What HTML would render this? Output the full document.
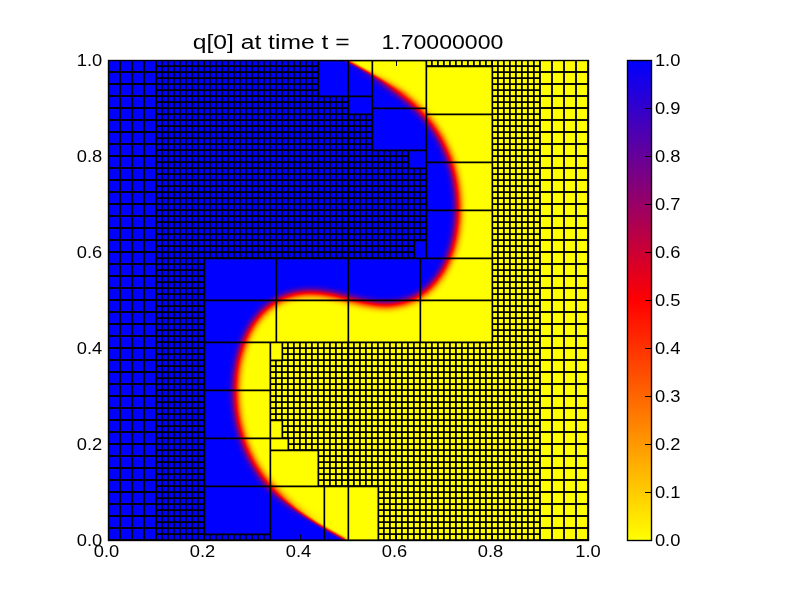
<!DOCTYPE html>
<html><head><meta charset="utf-8"><style>
html,body{margin:0;padding:0;background:#fff;}
svg{display:block;will-change:transform;}
text{font-family:"Liberation Sans",sans-serif;fill:#000;}
</style></head><body>
<svg width="800" height="600" viewBox="0 0 800 600">
<defs>
<filter id="cm" x="0" y="0" width="800" height="600" filterUnits="userSpaceOnUse" color-interpolation-filters="sRGB">
<feGaussianBlur stdDeviation="4.5"/>
<feComponentTransfer>
<feFuncR type="table" tableValues="1 1 0"/>
<feFuncG type="table" tableValues="1 0 0"/>
<feFuncB type="table" tableValues="0 0 1"/>
<feFuncA type="identity"/>
</feComponentTransfer>
</filter>
<filter id="cm2" x="0" y="0" width="800" height="600" filterUnits="userSpaceOnUse" color-interpolation-filters="sRGB">
<feGaussianBlur stdDeviation="1.8"/>
<feComponentTransfer>
<feFuncR type="table" tableValues="1 1 0"/>
<feFuncG type="table" tableValues="1 0 0"/>
<feFuncB type="table" tableValues="0 0 1"/>
</feComponentTransfer>
</filter>
<linearGradient id="wg" gradientUnits="userSpaceOnUse" x1="0" y1="60" x2="0" y2="540">
<stop offset="0.0167" stop-color="#fff"/><stop offset="0.0667" stop-color="#000"/>
<stop offset="0.8917" stop-color="#000"/><stop offset="0.9688" stop-color="#fff"/>
</linearGradient>
<mask id="wm" maskUnits="userSpaceOnUse" x="0" y="0" width="800" height="600"><rect x="0" y="0" width="800" height="600" fill="url(#wg)"/></mask>
<clipPath id="ax"><rect x="108" y="60" width="480" height="480"/></clipPath>
<mask id="m2" maskUnits="userSpaceOnUse" x="0" y="0" width="800" height="600"><rect x="156" y="60" width="384" height="481" fill="#fff"/><rect x="318" y="60" width="30" height="36" fill="#000"/><rect x="348" y="60" width="24" height="36" fill="#000"/><rect x="348" y="96" width="24" height="18" fill="#000"/><rect x="372" y="60" width="54" height="48" fill="#000"/><rect x="372" y="108" width="54" height="42" fill="#000"/><rect x="408" y="150" width="18" height="18" fill="#000"/><rect x="414" y="240" width="12" height="18" fill="#000"/><rect x="426" y="66" width="66" height="48" fill="#000"/><rect x="426" y="114" width="66" height="48" fill="#000"/><rect x="426" y="162" width="66" height="48" fill="#000"/><rect x="426" y="210" width="66" height="48" fill="#000"/><rect x="204" y="258" width="72" height="42" fill="#000"/><rect x="276" y="258" width="72" height="42" fill="#000"/><rect x="348" y="258" width="72" height="42" fill="#000"/><rect x="420" y="258" width="72" height="42" fill="#000"/><rect x="204" y="300" width="72" height="42" fill="#000"/><rect x="276" y="300" width="72" height="42" fill="#000"/><rect x="348" y="300" width="72" height="42" fill="#000"/><rect x="420" y="300" width="72" height="42" fill="#000"/><rect x="204" y="342" width="66" height="48" fill="#000"/><rect x="204" y="390" width="66" height="48" fill="#000"/><rect x="204" y="438" width="66" height="48" fill="#000"/><rect x="204" y="486" width="66" height="48" fill="#000"/><rect x="270" y="342" width="12" height="18" fill="#000"/><rect x="270" y="420" width="12" height="18" fill="#000"/><rect x="270" y="438" width="18" height="12" fill="#000"/><rect x="270" y="450" width="48" height="36" fill="#000"/><rect x="270" y="486" width="54" height="54" fill="#000"/><rect x="324" y="486" width="24" height="54" fill="#000"/><rect x="348" y="486" width="30" height="54" fill="#000"/></mask>
<linearGradient id="cbg" x1="0" y1="1" x2="0" y2="0"><stop offset="0" stop-color="#ff0"/><stop offset="0.5" stop-color="#f00"/><stop offset="1" stop-color="#00f"/></linearGradient>
</defs>
<g clip-path="url(#ax)">
<g filter="url(#cm)"><rect x="40" y="0" width="600" height="600" fill="#000"/><path id="bl" d="M60.00,0.00 L418.79,0.00 L418.79,12.00 L408.50,21.41 L397.50,30.00 L384.27,39.00 L369.42,48.00 L348.00,60.00 L369.42,72.00 L384.27,81.00 L397.50,90.00 L408.50,98.59 L418.79,108.00 L423.57,113.00 L427.92,118.00 L432.00,123.18 L435.79,128.50 L439.31,134.00 L442.45,139.50 L445.74,146.00 L448.59,152.50 L451.05,159.00 L453.29,166.00 L455.15,173.00 L456.64,180.00 L457.86,187.50 L458.70,195.00 L459.18,202.50 L459.29,210.00 L459.04,217.50 L458.42,225.00 L457.40,232.50 L456.07,239.50 L454.49,246.00 L452.50,252.56 L448.85,262.00 L444.50,270.66 L439.46,278.50 L433.50,285.75 L427.43,291.50 L420.50,296.55 L413.00,300.57 L405.00,303.52 L398.50,305.05 L391.50,305.94 L384.00,306.15 L376.50,305.68 L370.00,304.83 L362.50,303.43 L338.00,297.56 L328.50,295.59 L319.00,294.27 L310.00,293.84 L305.00,294.02 L300.50,294.48 L296.00,295.24 L291.50,296.34 L287.00,297.80 L283.00,299.43 L279.00,301.40 L275.00,303.77 L270.50,306.94 L266.50,310.30 L262.50,314.25 L259.00,318.28 L255.50,322.97 L252.50,327.63 L249.53,333.00 L247.00,338.34 L244.53,344.50 L242.52,350.50 L240.74,357.00 L239.31,363.50 L238.14,370.50 L237.33,377.50 L236.86,384.50 L236.70,391.50 L237.17,403.50 L238.50,415.00 L240.73,426.50 L243.78,437.50 L247.62,448.00 L252.23,458.00 L257.61,467.50 L264.00,476.82 L270.64,485.00 L278.22,493.00 L286.50,500.56 L295.79,508.00 L305.63,515.00 L317.00,522.30 L330.00,529.97 L348.00,540.00 L330.00,550.03 L317.00,557.70 L305.63,565.00 L295.79,572.00 L286.50,579.44 L278.22,587.00 L278.22,600.00 L60.00,600.00 Z" fill="#fff" stroke="#000" stroke-width="2.0"/></g>
<g mask="url(#wm)"><g filter="url(#cm2)"><rect x="40" y="0" width="600" height="600" fill="#000"/><use href="#bl"/></g></g>
</g>
<g clip-path="url(#ax)" fill="none" stroke="#000" stroke-width="1.39">
<path d="M108,60V540M120,60V540M132,60V540M144,60V540M156,60V540M108,60H156M108,72H156M108,84H156M108,96H156M108,108H156M108,120H156M108,132H156M108,144H156M108,156H156M108,168H156M108,180H156M108,192H156M108,204H156M108,216H156M108,228H156M108,240H156M108,252H156M108,264H156M108,276H156M108,288H156M108,300H156M108,312H156M108,324H156M108,336H156M108,348H156M108,360H156M108,372H156M108,384H156M108,396H156M108,408H156M108,420H156M108,432H156M108,444H156M108,456H156M108,468H156M108,480H156M108,492H156M108,504H156M108,516H156M108,528H156M108,540H156M540,60V540M552,60V540M564,60V540M576,60V540M588,60V540M540,60H588M540,72H588M540,84H588M540,96H588M540,108H588M540,120H588M540,132H588M540,144H588M540,156H588M540,168H588M540,180H588M540,192H588M540,204H588M540,216H588M540,228H588M540,240H588M540,252H588M540,264H588M540,276H588M540,288H588M540,300H588M540,312H588M540,324H588M540,336H588M540,348H588M540,360H588M540,372H588M540,384H588M540,396H588M540,408H588M540,420H588M540,432H588M540,444H588M540,456H588M540,468H588M540,480H588M540,492H588M540,504H588M540,516H588M540,528H588M540,540H588"/><path d="M108,60V540M120,60V540M132,60V540M144,60V540M156,60V540M108,60H156M108,72H156M108,84H156M108,96H156M108,108H156M108,120H156M108,132H156M108,144H156M108,156H156M108,168H156M108,180H156M108,192H156M108,204H156M108,216H156M108,228H156M108,240H156M108,252H156M108,264H156M108,276H156M108,288H156M108,300H156M108,312H156M108,324H156M108,336H156M108,348H156M108,360H156M108,372H156M108,384H156M108,396H156M108,408H156M108,420H156M108,432H156M108,444H156M108,456H156M108,468H156M108,480H156M108,492H156M108,504H156M108,516H156M108,528H156M108,540H156M540,60V540M552,60V540M564,60V540M576,60V540M588,60V540M540,60H588M540,72H588M540,84H588M540,96H588M540,108H588M540,120H588M540,132H588M540,144H588M540,156H588M540,168H588M540,180H588M540,192H588M540,204H588M540,216H588M540,228H588M540,240H588M540,252H588M540,264H588M540,276H588M540,288H588M540,300H588M540,312H588M540,324H588M540,336H588M540,348H588M540,360H588M540,372H588M540,384H588M540,396H588M540,408H588M540,420H588M540,432H588M540,444H588M540,456H588M540,468H588M540,480H588M540,492H588M540,504H588M540,516H588M540,528H588M540,540H588"/>
<g mask="url(#m2)"><path d="M155.8,60V540M161.8,60V540M167.8,60V540M173.8,60V540M179.8,60V540M185.8,60V540M191.8,60V540M197.8,60V540M203.8,60V540M209.8,60V540M215.8,60V540M221.8,60V540M227.8,60V540M233.8,60V540M239.8,60V540M245.8,60V540M251.8,60V540M257.8,60V540M263.8,60V540M269.8,60V540M275.8,60V540M281.8,60V540M287.8,60V540M293.8,60V540M299.8,60V540M305.8,60V540M311.8,60V540M317.8,60V540M323.8,60V540M329.8,60V540M335.8,60V540M341.8,60V540M347.8,60V540M353.8,60V540M359.8,60V540M365.8,60V540M371.8,60V540M377.8,60V540M383.8,60V540M389.8,60V540M395.8,60V540M401.8,60V540M407.8,60V540M413.8,60V540M419.8,60V540M425.8,60V540M431.8,60V540M437.8,60V540M443.8,60V540M449.8,60V540M455.8,60V540M461.8,60V540M467.8,60V540M473.8,60V540M479.8,60V540M485.8,60V540M491.8,60V540M497.8,60V540M503.8,60V540M509.8,60V540M515.8,60V540M521.8,60V540M527.8,60V540M533.8,60V540M539.8,60V540M156,60.2H540M156,66.2H540M156,72.2H540M156,78.2H540M156,84.2H540M156,90.2H540M156,96.2H540M156,102.2H540M156,108.2H540M156,114.2H540M156,120.2H540M156,126.2H540M156,132.2H540M156,138.2H540M156,144.2H540M156,150.2H540M156,156.2H540M156,162.2H540M156,168.2H540M156,174.2H540M156,180.2H540M156,186.2H540M156,192.2H540M156,198.2H540M156,204.2H540M156,210.2H540M156,216.2H540M156,222.2H540M156,228.2H540M156,234.2H540M156,240.2H540M156,246.2H540M156,252.2H540M156,258.2H540M156,264.2H540M156,270.2H540M156,276.2H540M156,282.2H540M156,288.2H540M156,294.2H540M156,300.2H540M156,306.2H540M156,312.2H540M156,318.2H540M156,324.2H540M156,330.2H540M156,336.2H540M156,342.2H540M156,348.2H540M156,354.2H540M156,360.2H540M156,366.2H540M156,372.2H540M156,378.2H540M156,384.2H540M156,390.2H540M156,396.2H540M156,402.2H540M156,408.2H540M156,414.2H540M156,420.2H540M156,426.2H540M156,432.2H540M156,438.2H540M156,444.2H540M156,450.2H540M156,456.2H540M156,462.2H540M156,468.2H540M156,474.2H540M156,480.2H540M156,486.2H540M156,492.2H540M156,498.2H540M156,504.2H540M156,510.2H540M156,516.2H540M156,522.2H540M156,528.2H540M156,534.2H540M156,540.2H540"/><path d="M155.8,60V540M161.8,60V540M167.8,60V540M173.8,60V540M179.8,60V540M185.8,60V540M191.8,60V540M197.8,60V540M203.8,60V540M209.8,60V540M215.8,60V540M221.8,60V540M227.8,60V540M233.8,60V540M239.8,60V540M245.8,60V540M251.8,60V540M257.8,60V540M263.8,60V540M269.8,60V540M275.8,60V540M281.8,60V540M287.8,60V540M293.8,60V540M299.8,60V540M305.8,60V540M311.8,60V540M317.8,60V540M323.8,60V540M329.8,60V540M335.8,60V540M341.8,60V540M347.8,60V540M353.8,60V540M359.8,60V540M365.8,60V540M371.8,60V540M377.8,60V540M383.8,60V540M389.8,60V540M395.8,60V540M401.8,60V540M407.8,60V540M413.8,60V540M419.8,60V540M425.8,60V540M431.8,60V540M437.8,60V540M443.8,60V540M449.8,60V540M455.8,60V540M461.8,60V540M467.8,60V540M473.8,60V540M479.8,60V540M485.8,60V540M491.8,60V540M497.8,60V540M503.8,60V540M509.8,60V540M515.8,60V540M521.8,60V540M527.8,60V540M533.8,60V540M539.8,60V540M156,60.2H540M156,66.2H540M156,72.2H540M156,78.2H540M156,84.2H540M156,90.2H540M156,96.2H540M156,102.2H540M156,108.2H540M156,114.2H540M156,120.2H540M156,126.2H540M156,132.2H540M156,138.2H540M156,144.2H540M156,150.2H540M156,156.2H540M156,162.2H540M156,168.2H540M156,174.2H540M156,180.2H540M156,186.2H540M156,192.2H540M156,198.2H540M156,204.2H540M156,210.2H540M156,216.2H540M156,222.2H540M156,228.2H540M156,234.2H540M156,240.2H540M156,246.2H540M156,252.2H540M156,258.2H540M156,264.2H540M156,270.2H540M156,276.2H540M156,282.2H540M156,288.2H540M156,294.2H540M156,300.2H540M156,306.2H540M156,312.2H540M156,318.2H540M156,324.2H540M156,330.2H540M156,336.2H540M156,342.2H540M156,348.2H540M156,354.2H540M156,360.2H540M156,366.2H540M156,372.2H540M156,378.2H540M156,384.2H540M156,390.2H540M156,396.2H540M156,402.2H540M156,408.2H540M156,414.2H540M156,420.2H540M156,426.2H540M156,432.2H540M156,438.2H540M156,444.2H540M156,450.2H540M156,456.2H540M156,462.2H540M156,468.2H540M156,474.2H540M156,480.2H540M156,486.2H540M156,492.2H540M156,498.2H540M156,504.2H540M156,510.2H540M156,516.2H540M156,522.2H540M156,528.2H540M156,534.2H540M156,540.2H540"/><path d="M348.5,60V540"/></g>
<path d="M318.35,60.35H348.35V96.35H318.35ZM348.35,60.35H372.35V96.35H348.35ZM348.35,96.35H372.35V114.35H348.35ZM372.35,60.35H426.35V108.35H372.35ZM372.35,108.35H426.35V150.35H372.35ZM408.35,150.35H426.35V168.35H408.35ZM414.35,240.35H426.35V258.35H414.35ZM426.35,66.35H492.35V114.35H426.35ZM426.35,114.35H492.35V162.35H426.35ZM426.35,162.35H492.35V210.35H426.35ZM426.35,210.35H492.35V258.35H426.35ZM204.35,258.35H276.35V300.35H204.35ZM276.35,258.35H348.35V300.35H276.35ZM348.35,258.35H420.35V300.35H348.35ZM420.35,258.35H492.35V300.35H420.35ZM204.35,300.35H276.35V342.35H204.35ZM276.35,300.35H348.35V342.35H276.35ZM348.35,300.35H420.35V342.35H348.35ZM420.35,300.35H492.35V342.35H420.35ZM204.35,342.35H270.35V390.35H204.35ZM204.35,390.35H270.35V438.35H204.35ZM204.35,438.35H270.35V486.35H204.35ZM204.35,486.35H270.35V534.35H204.35ZM270.35,342.35H282.35V360.35H270.35ZM270.35,420.35H282.35V438.35H270.35ZM270.35,438.35H288.35V450.35H270.35ZM270.35,450.35H318.35V486.35H270.35ZM270.35,486.35H324.35V540.35H270.35ZM324.35,486.35H348.35V540.35H324.35ZM348.35,486.35H378.35V540.35H348.35Z" stroke-width="1.7"/>
</g>
<path d="M108.5,540V534.5M108.5,60V66M108,540.5H114M588,540.5H582.5M204.5,540V534.5M204.5,60V66M108,444.5H114M588,444.5H582.5M300.5,540V534.5M300.5,60V66M108,348.5H114M588,348.5H582.5M396.5,540V534.5M396.5,60V66M108,252.5H114M588,252.5H582.5M492.5,540V534.5M492.5,60V66M108,156.5H114M588,156.5H582.5M588.5,540V534.5M588.5,60V66M108,60.5H114M588,60.5H582.5" stroke="#000" stroke-width="1" fill="none"/>
<rect x="108.5" y="60.5" width="480" height="480" fill="none" stroke="#000" stroke-width="1.39"/>
<rect x="627.5" y="60.5" width="24" height="480" fill="url(#cbg)" stroke="#000" stroke-width="1.39"/>
<path d="M645,492.5H651M645,444.5H651M645,396.5H651M645,348.5H651M645,300.5H651M645,252.5H651M645,204.5H651M645,156.5H651M645,108.5H651" stroke="#000" stroke-width="1" fill="none"/>
<text x="93.83" y="557" font-size="17" textLength="25.46" lengthAdjust="spacingAndGlyphs">0.0</text><text x="76.73" y="546" font-size="17" textLength="25.46" lengthAdjust="spacingAndGlyphs">0.0</text><text x="189.83" y="557" font-size="17" textLength="25.46" lengthAdjust="spacingAndGlyphs">0.2</text><text x="76.73" y="450" font-size="17" textLength="25.46" lengthAdjust="spacingAndGlyphs">0.2</text><text x="285.83" y="557" font-size="17" textLength="25.46" lengthAdjust="spacingAndGlyphs">0.4</text><text x="76.73" y="354" font-size="17" textLength="25.46" lengthAdjust="spacingAndGlyphs">0.4</text><text x="381.83" y="557" font-size="17" textLength="25.46" lengthAdjust="spacingAndGlyphs">0.6</text><text x="76.73" y="258" font-size="17" textLength="25.46" lengthAdjust="spacingAndGlyphs">0.6</text><text x="477.83" y="557" font-size="17" textLength="25.46" lengthAdjust="spacingAndGlyphs">0.8</text><text x="76.73" y="162" font-size="17" textLength="25.46" lengthAdjust="spacingAndGlyphs">0.8</text><text x="575.33" y="557" font-size="17" textLength="25.46" lengthAdjust="spacingAndGlyphs">1.0</text><text x="76.73" y="66" font-size="17" textLength="25.46" lengthAdjust="spacingAndGlyphs">1.0</text>
<text x="654.92" y="546" font-size="17" textLength="25.46" lengthAdjust="spacingAndGlyphs">0.0</text><text x="654.92" y="498" font-size="17" textLength="25.46" lengthAdjust="spacingAndGlyphs">0.1</text><text x="654.92" y="450" font-size="17" textLength="25.46" lengthAdjust="spacingAndGlyphs">0.2</text><text x="654.92" y="402" font-size="17" textLength="25.46" lengthAdjust="spacingAndGlyphs">0.3</text><text x="654.92" y="354" font-size="17" textLength="25.46" lengthAdjust="spacingAndGlyphs">0.4</text><text x="654.92" y="306" font-size="17" textLength="25.46" lengthAdjust="spacingAndGlyphs">0.5</text><text x="654.92" y="258" font-size="17" textLength="25.46" lengthAdjust="spacingAndGlyphs">0.6</text><text x="654.92" y="210" font-size="17" textLength="25.46" lengthAdjust="spacingAndGlyphs">0.7</text><text x="654.92" y="162" font-size="17" textLength="25.46" lengthAdjust="spacingAndGlyphs">0.8</text><text x="654.92" y="114" font-size="17" textLength="25.46" lengthAdjust="spacingAndGlyphs">0.9</text><text x="654.92" y="66" font-size="17" textLength="25.46" lengthAdjust="spacingAndGlyphs">1.0</text>
<text x="192.8" y="49" font-size="20" textLength="156.8" lengthAdjust="spacingAndGlyphs">q[0] at time t =</text><text x="381.5" y="49" font-size="20" textLength="121.8" lengthAdjust="spacingAndGlyphs">1.70000000</text>
</svg>
</body></html>
